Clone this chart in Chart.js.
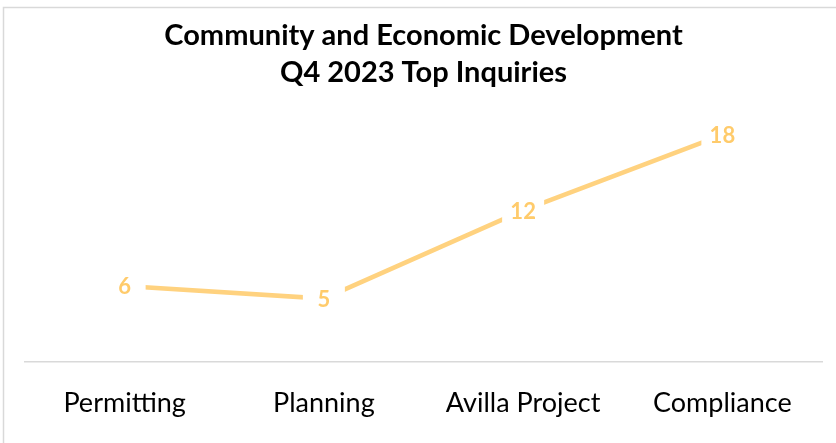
<!DOCTYPE html>
<html>
<head>
<meta charset="utf-8">
<script src="https://cdn.jsdelivr.net/npm/chart.js@4"></script>
<style>
html,body{margin:0;padding:0;background:#fff;overflow:hidden;}
#wrap{position:relative;width:836px;height:443px;}
</style>
</head>
<body>
<div id="wrap"><canvas id="c"></canvas></div>
<script>
const categories = ["Permitting", "Planning", "Avilla Project", "Compliance"];
const inquiries = [6, 5, 12, 18];
const titleLines = ["Community and Economic Development", "Q4 2023 Top Inquiries"];

const lineColor = "#FFD27F";
const labelColor = "#FFCB6B";

const framePlugin = {
  id: "frame",
  beforeDraw(chart) {
    const ctx = chart.ctx;
    ctx.save();
    ctx.strokeStyle = "#D9D9D9";
    ctx.lineWidth = 1.5;
    ctx.beginPath();
    ctx.moveTo(3.5, chart.height + 2);
    ctx.lineTo(3.5, 7.5);
    ctx.lineTo(chart.width + 2, 7.5);
    ctx.stroke();
    ctx.restore();
  }
};

const labelPlugin = {
  id: "valueLabels",
  afterDatasetsDraw(chart) {
    const ctx = chart.ctx;
    const meta = chart.getDatasetMeta(0);
    ctx.save();
    ctx.font = "bold 22px Lato";
    ctx.textAlign = "center";
    ctx.textBaseline = "middle";
    meta.data.forEach((pt, i) => {
      const txt = String(chart.data.datasets[0].data[i]);
      const hw = 21, hh = 12;
      ctx.fillStyle = "#ffffff";
      ctx.fillRect(pt.x - hw, pt.y - hh, hw * 2, hh * 2);
      ctx.fillStyle = labelColor;
      ctx.fillText(txt, pt.x, pt.y + 1);
    });
    ctx.restore();
  }
};

new Chart(document.getElementById("c"), {
  type: "line",
  data: {
    labels: categories,
    datasets: [{
      data: inquiries,
      borderColor: lineColor,
      borderWidth: 4.5,
      pointRadius: 0,
      tension: 0,
      fill: false
    }]
  },
  options: {
    responsive: true,
    maintainAspectRatio: false,
    animation: false,
    layout: { padding: { left: 25, right: 14, top: 17, bottom: -1 } },
    plugins: {
      legend: { display: false },
      tooltip: { enabled: false },
      title: {
        display: true,
        text: titleLines,
        color: "#000",
        font: { family: "Lato", size: 29, weight: "bold", lineHeight: 1.27 },
        padding: { top: 0, bottom: 19 }
      }
    },
    scales: {
      x: {
        offset: true,
        grid: { display: false, drawTicks: false },
        border: { display: true, color: "#D9D9D9", width: 1.5 },
        ticks: { color: "#000", font: { family: "Lato", size: 27 }, padding: 25, maxRotation: 0 }
      },
      y: {
        display: false,
        min: 0,
        max: 20
      }
    }
  },
  plugins: [framePlugin, labelPlugin]
});
</script>
</body>
</html>
